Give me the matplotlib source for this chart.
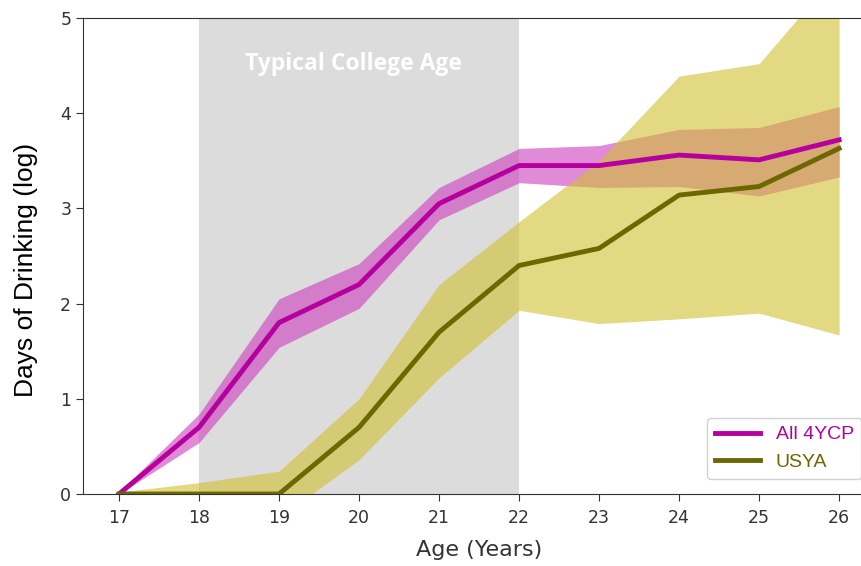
import numpy as np
import matplotlib.pyplot as plt

# ages and mean log days of drinking with CI bounds
ages = [17, 18, 19, 20, 21, 22, 23, 24, 25, 26]

all4ycp_mean = [0.0, 0.70, 1.80, 2.20, 3.05, 3.45, 3.45, 3.56, 3.51, 3.72]
all4ycp_lo = [0.0, 0.54, 1.54, 1.95, 2.88, 3.27, 3.22, 3.23, 3.13, 3.33]
all4ycp_hi = [0.02, 0.84, 2.05, 2.42, 3.22, 3.63, 3.66, 3.83, 3.85, 4.07]

usya_mean = [0.0, 0.0, 0.0, 0.70, 1.70, 2.40, 2.58, 3.14, 3.23, 3.63]
usya_lo = [-0.02, -0.12, -0.25, 0.36, 1.22, 1.93, 1.79, 1.84, 1.90, 1.67]
usya_hi = [0.02, 0.12, 0.24, 1.00, 2.20, 2.86, 3.50, 4.39, 4.52, 5.50]

college_span = (18, 22)

fig = plt.figure(figsize=(8.61, 5.66), dpi=100)
ax = fig.add_axes([0.0964, 0.1272, 0.92, 0.841])

ax.axvspan(college_span[0], college_span[1], color='#dcdcdc', lw=0, zorder=0)
ax.text(sum(college_span) / 2 - 0.07, 4.52, 'Typical College Age', color='white',
        fontsize=16.5, fontweight='bold', family='Open Sans', ha='center', va='center')

ax.fill_between(ages, all4ycp_lo, all4ycp_hi, color='#cc3cbf', alpha=0.6, lw=0, zorder=1)
ax.fill_between(ages, usya_lo, usya_hi, color='#d2c030', alpha=0.6, lw=0, zorder=2)
ax.plot(ages, all4ycp_mean, color='#b5009e', lw=3.5, label='All 4YCP', zorder=3)
ax.plot(ages, usya_mean, color='#6b6800', lw=3.5, label='USYA', zorder=3)

ax.set_xlim(16.55, 26.45)
ax.set_ylim(0, 5)
ax.set_xticks(ages)
ax.set_yticks(range(6))
ax.tick_params(labelsize=12.5, labelcolor='#333333', color='#333333', length=5)
ax.tick_params(axis='x', pad=6)
for s in ax.spines.values():
    s.set_color('#333333')
ax.spines['right'].set_visible(False)

ax.set_xlabel('Age (Years)', fontsize=16, color='#333333', labelpad=9)
ax.set_ylabel('Days of Drinking (log)', fontsize=19, family='Liberation Sans', color='black')
ax.yaxis.set_label_coords(-0.057, 0.47)

leg = ax.legend(loc='lower right', bbox_to_anchor=(0.995, 0.012),
                prop={'family': 'Liberation Sans', 'size': 14},
                handlelength=2.3, framealpha=0.9)
for txt, c in zip(leg.get_texts(), ['#b5009e', '#6b6800']):
    txt.set_color(c)

fig.savefig('out.png', dpi=100)
